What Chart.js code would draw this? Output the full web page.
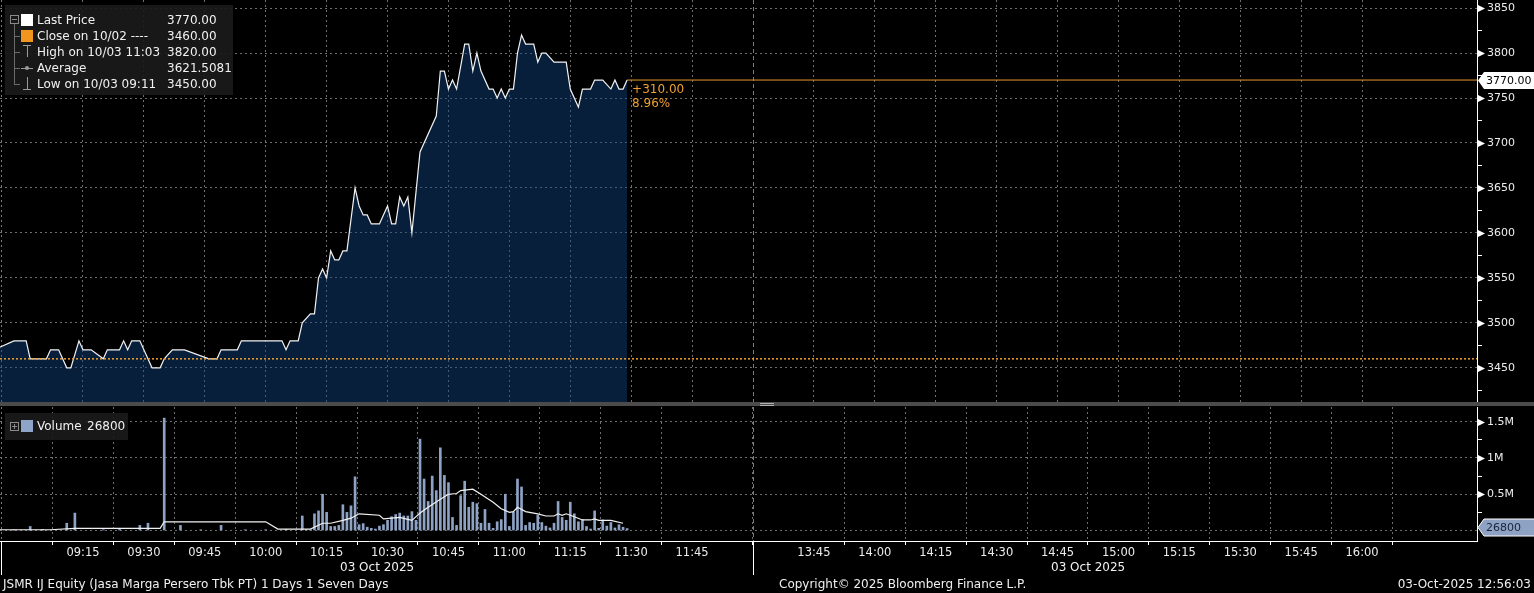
<!DOCTYPE html>
<html>
<head>
<meta charset="utf-8">
<script src="https://cdn.jsdelivr.net/npm/chart.js@4.4.1/dist/chart.umd.min.js"></script>
<style>
html,body{margin:0;padding:0;background:#000;overflow:hidden}
body{width:1534px;height:593px;position:relative;font-family:'DejaVu Sans',sans-serif;font-size:12px;color:#f0f0f0}
#priceBox{position:absolute;left:0;top:0;width:1534px;height:402px}
#volBox{position:absolute;left:0;top:406px;width:1534px;height:187px}
.sep{position:absolute;left:0;top:402px;width:1534px;height:4px;background:#4b4b4b}
.handle{position:absolute;left:760px;top:403px;width:14px;height:0;border-top:1px solid #b0b0b0;border-bottom:1px solid #b0b0b0;padding-top:1px}
.lg{position:absolute;background:rgba(26,26,26,.92)}
.t{position:absolute;white-space:nowrap;line-height:16px;height:16px}
.ic{position:absolute}
.foot{position:absolute;white-space:nowrap;line-height:16px;color:#f0f0f0}
</style>
</head>
<body>
<div id="priceBox"><canvas id="price"></canvas></div>
<div class="sep"></div><div class="handle"></div>
<div id="volBox"><canvas id="vol"></canvas></div>

<!-- price legend -->
<div class="lg" style="left:5px;top:5px;width:228px;height:90px"></div>
<div class="ic" style="left:10px;top:15px;width:7px;height:7px;border:1px solid #8a8a8a"></div>
<div class="ic" style="left:12px;top:19px;width:5px;height:1px;background:#8a8a8a"></div>
<div class="ic" style="left:14px;top:24px;width:1px;height:61px;background:#6a6a6a"></div>
<div class="ic" style="left:14px;top:36px;width:6px;height:1px;background:#6a6a6a"></div>
<div class="ic" style="left:14px;top:52px;width:6px;height:1px;background:#6a6a6a"></div>
<div class="ic" style="left:14px;top:68px;width:6px;height:1px;background:#6a6a6a"></div>
<div class="ic" style="left:14px;top:84px;width:6px;height:1px;background:#6a6a6a"></div>
<div class="ic" style="left:21px;top:14px;width:12px;height:12px;background:#fff"></div>
<div class="ic" style="left:21px;top:30px;width:12px;height:12px;background:#f0961e"></div>
<div class="ic" style="left:23px;top:45px;width:8px;height:1px;background:#9a9a9a"></div>
<div class="ic" style="left:27px;top:45px;width:1px;height:12px;background:#9a9a9a"></div>
<div class="ic" style="left:21px;top:68px;width:12px;height:1px;background:#9a9a9a"></div>
<div class="ic" style="left:25px;top:66px;width:4px;height:4px;border-radius:50%;background:#9a9a9a"></div>
<div class="ic" style="left:27px;top:77px;width:1px;height:12px;background:#9a9a9a"></div>
<div class="ic" style="left:23px;top:89px;width:8px;height:1px;background:#9a9a9a"></div>
<div class="t" style="left:37px;top:12px">Last Price</div><div class="t" style="left:167px;top:12px">3770.00</div>
<div class="t" style="left:37px;top:28px">Close on 10/02 ----</div><div class="t" style="left:167px;top:28px">3460.00</div>
<div class="t" style="left:37px;top:44px">High on 10/03 11:03</div><div class="t" style="left:167px;top:44px">3820.00</div>
<div class="t" style="left:37px;top:60px">Average</div><div class="t" style="left:167px;top:60px">3621.5081</div>
<div class="t" style="left:37px;top:76px">Low on 10/03 09:11</div><div class="t" style="left:167px;top:76px">3450.00</div>

<!-- volume legend -->
<div class="lg" style="left:5px;top:413px;width:123px;height:27px"></div>
<div class="ic" style="left:10px;top:422px;width:7px;height:7px;border:1px solid #8a8a8a"></div>
<div class="ic" style="left:12px;top:426px;width:5px;height:1px;background:#8a8a8a"></div>
<div class="ic" style="left:14px;top:424px;width:1px;height:5px;background:#8a8a8a"></div>
<div class="ic" style="left:21px;top:420px;width:12px;height:12px;background:#8ea4c8"></div>
<div class="t" style="left:37px;top:418px">Volume</div><div class="t" style="left:87px;top:418px">26800</div>

<!-- footer -->
<div class="foot" style="left:340px;top:559px">03 Oct 2025</div>
<div class="foot" style="left:1051px;top:559px">03 Oct 2025</div>
<div class="foot" style="left:3px;top:576px">JSMR IJ Equity (Jasa Marga Persero Tbk PT) 1 Days 1 Seven Days</div>
<div class="foot" style="left:779px;top:576px">Copyright© 2025 Bloomberg Finance L.P.</div>
<div class="foot" style="right:3px;top:576px">03-Oct-2025 12:56:03</div>

<script>
// ---- data ----
const PRICE_TIMES = ['08:54','08:58','09:01','09:02','09:06','09:07','09:09','09:11','09:12','09:14','09:15','09:17','09:20','09:21','09:24','09:25','09:26','09:27','09:29','09:32','09:34','09:35','09:37','09:40','09:46','09:48','09:49','09:53','09:54','10:04','10:05','10:06','10:08','10:09','10:11','10:12','10:13','10:14','10:15','10:16','10:17','10:18','10:19','10:20','10:22','10:23','10:24','10:25','10:26','10:28','10:30','10:31','10:32','10:33','10:34','10:35','10:36','10:38','10:42','10:43','10:44','10:45','10:46','10:47','10:49','10:50','10:51','10:52','10:53','10:55','10:56','10:57','10:58','10:59','11:00','11:01','11:02','11:03','11:04','11:06','11:07','11:08','11:09','11:11','11:14','11:15','11:17','11:18','11:20','11:21','11:23','11:25','11:26','11:27','11:28','11:29'];
const PRICE_VALUES = [3472,3480,3480,3460,3460,3470,3470,3450,3450,3480,3470,3470,3460,3470,3470,3480,3470,3480,3480,3450,3450,3460,3470,3470,3460,3460,3470,3470,3480,3480,3470,3480,3480,3500,3510,3510,3550,3560,3550,3580,3570,3570,3580,3580,3650,3630,3620,3620,3610,3610,3630,3610,3610,3640,3630,3640,3600,3690,3730,3780,3780,3760,3770,3760,3810,3810,3780,3800,3780,3760,3760,3750,3760,3750,3760,3760,3800,3820,3810,3810,3790,3800,3800,3790,3790,3760,3740,3760,3760,3770,3770,3760,3770,3760,3760,3770];
const PREV_CLOSE = 3460;

const VOL_TIMES = ['08:58','09:02','09:05','09:11','09:13','09:20','09:24','09:29','09:31','09:35','09:39','09:44','09:49','09:55','10:00','10:05',
  '10:09','10:10','10:11','10:12','10:13','10:14','10:15','10:16','10:17','10:18','10:19','10:20','10:21','10:22','10:23','10:24','10:25','10:26','10:27','10:28','10:29',
  '10:30','10:31','10:32','10:33','10:34','10:35','10:36','10:37','10:38','10:39','10:40','10:41','10:42','10:43','10:44','10:45','10:46','10:47','10:48','10:49',
  '10:50','10:51','10:52','10:53','10:54','10:55','10:56','10:57','10:58','10:59','11:00','11:01','11:02','11:03','11:04','11:05','11:06','11:07','11:08','11:09',
  '11:10','11:11','11:12','11:13','11:14','11:15','11:16','11:17','11:18','11:19','11:20','11:21','11:22','11:23','11:24','11:25','11:26','11:27','11:28','11:29'];
const VOL_VALUES = [10000,55000,15000,100000,240000,10000,15000,70000,100000,1550000,70000,10000,70000,10000,10000,15000,
  200000,10000,10000,230000,270000,500000,250000,55000,55000,70000,355000,250000,340000,740000,80000,95000,45000,30000,20000,60000,80000,
  140000,190000,220000,240000,200000,200000,260000,140000,1260000,710000,400000,750000,550000,1140000,760000,660000,180000,70000,480000,680000,
  320000,390000,370000,100000,290000,100000,30000,120000,150000,500000,55000,250000,710000,600000,70000,110000,100000,210000,110000,60000,
  35000,100000,400000,180000,140000,390000,230000,120000,150000,55000,20000,270000,30000,145000,60000,110000,35000,80000,45000,26800];

const VOL_AVG_TIMES = ['08:54','09:07','09:13','09:34','09:35','10:00','10:03','10:11','10:14','10:16','10:19','10:21','10:23','10:28','10:29','10:31','10:33','10:36','10:38','10:40','10:43','10:45','10:47','10:48','10:51','10:53','10:56','10:58','11:00','11:01','11:02','11:04','11:07','11:09','11:11','11:12','11:13','11:14','11:16','11:18','11:20','11:21','11:22','11:25','11:28'];
const VOL_AVG_VALUES = [10000,10000,30000,30000,120000,120000,20000,20000,100000,100000,140000,170000,230000,210000,160000,170000,180000,140000,240000,320000,430000,500000,510000,550000,570000,500000,390000,300000,250000,260000,320000,260000,230000,200000,200000,230000,210000,230000,190000,145000,145000,160000,140000,140000,100000];

const TIME_TICKS = ['09:15','09:30','09:45','10:00','10:15','10:30','10:45','11:00','11:15','11:30','11:45','13:45','14:00','14:15','14:30','14:45','15:00','15:15','15:30','15:45','16:00'];
const PRICE_TICKS = [3425,3450,3475,3500,3525,3550,3575,3600,3625,3650,3675,3700,3725,3750,3775,3800,3825,3850];
const VOL_TICKS = [0,250000,500000,750000,1000000,1250000,1500000];

// ---- axis helpers (lunch break 12:00-13:30 is collapsed) ----
const X_MIN = 534.56, X_MAX = 898.3, BREAK_X = 720;
const toX = t => { const [h, m] = t.split(':').map(Number); const v = h * 60 + m; return v >= 810 ? v - 90 : v; };
const fmtT = v => { const m = v > BREAK_X ? v + 90 : v; return String(Math.floor(m / 60)).padStart(2, '0') + ':' + String(Math.round(m % 60)).padStart(2, '0'); };
const fmtVol = v => v === 0 ? '' : (v % 500000 ? '' : (v / 1e6) + 'M');

const GRID = '#6e6e6e', TXT = '#ececec', FONT = "'DejaVu Sans', sans-serif";
Chart.defaults.font.family = FONT;
Chart.defaults.color = TXT;

const pts = (ts, vs) => ts.map((t, i) => ({x: toX(t), y: vs[i]}));

function axisMarks(ctx, scale, isMajor){
  ctx.save(); ctx.fillStyle = '#fff';
  scale.ticks.forEach(t => {
    if (!isMajor(t.value)) return;
    const y = Math.round(scale.getPixelForValue(t.value)) + 0.5;
    ctx.beginPath(); ctx.moveTo(scale.left + 1, y - 3.5); ctx.lineTo(scale.left + 8, y); ctx.lineTo(scale.left + 1, y + 3.5); ctx.closePath(); ctx.fill();
  });
  ctx.restore();
}
function tag(ctx, x0, y, text, fill, color, stroke){
  ctx.save();
  ctx.beginPath(); ctx.moveTo(x0 + 1, y); ctx.lineTo(x0 + 7, y - 8.5); ctx.lineTo(x0 + 60, y - 8.5); ctx.lineTo(x0 + 60, y + 8.5); ctx.lineTo(x0 + 7, y + 8.5); ctx.closePath();
  ctx.fillStyle = fill; ctx.fill();
  if (stroke){ ctx.strokeStyle = stroke; ctx.lineWidth = 1; ctx.stroke(); }
  ctx.fillStyle = color; ctx.font = '11px ' + FONT; ctx.textBaseline = 'middle'; ctx.fillText(text, x0 + 9, y + 1);
  ctx.restore();
}
function breakLines(chart){
  const {ctx, chartArea: a, scales: {x}} = chart;
  ctx.save(); ctx.strokeStyle = '#7c7c7c'; ctx.lineWidth = 1;
  [X_MIN, BREAK_X].forEach((v, i) => {
    const px = Math.max(Math.round(x.getPixelForValue(v)), 1) + 0.5;
    ctx.setLineDash(i ? [4, 3] : [2, 3]);
    ctx.beginPath(); ctx.moveTo(px, a.top); ctx.lineTo(px, a.bottom); ctx.stroke();
  });
  ctx.restore();
}

const xScale = (showLabels) => ({
  type: 'linear', min: X_MIN, max: X_MAX, offset: false,
  afterBuildTicks: s => { s.ticks = TIME_TICKS.map(t => ({value: toX(t)})); },
  afterFit: s => { s.paddingLeft = 0; s.paddingRight = 0; if (!showLabels) s.height = 0; else s.height = 52; },
  grid: {color: GRID, drawTicks: showLabels, tickLength: 4, tickColor: '#fff'},
  border: {display: showLabels, color: '#fff', width: 1, dash: [2, 3]},
  ticks: {display: showLabels, callback: v => fmtT(v), maxRotation: 0, autoSkip: false, padding: 1, color: TXT, font: {size: 11.5}}
});

const yScale = (ticks, min, max, isMajor, label) => ({
  position: 'right', min, max,
  afterBuildTicks: s => { s.ticks = ticks.map(v => ({value: v})); },
  afterFit: s => { s.width = 57; s.paddingTop = 0; s.paddingBottom = 0; },
  grid: {color: c => isMajor(c.tick.value) ? GRID : 'rgba(0,0,0,0)', tickLength: 5,
         tickColor: c => isMajor(c.tick.value) ? 'rgba(0,0,0,0)' : '#fff'},
  border: {display: true, color: '#fff', width: 1, dash: [2, 3]},
  ticks: {callback: label, padding: 5, color: TXT, font: {size: 11}, autoSkip: false}
});

const common = {
  responsive: true, maintainAspectRatio: false, animation: false,
  plugins: {legend: {display: false}, tooltip: {enabled: false}},
  elements: {point: {radius: 0}, line: {tension: 0}}
};

const lastT = toX(PRICE_TIMES[PRICE_TIMES.length - 1]);
const lastP = PRICE_VALUES[PRICE_VALUES.length - 1];

new Chart(document.getElementById('price'), {
  type: 'line',
  data: {datasets: [
    {data: [{x: X_MIN, y: PREV_CLOSE}, {x: X_MAX, y: PREV_CLOSE}], borderColor: '#f0a030', borderWidth: 1.5, borderDash: [2, 2], fill: false, order: 0},
    {data: [{x: lastT, y: lastP}, {x: X_MAX, y: lastP}], borderColor: '#e8982e', borderWidth: 1, fill: false, order: 0},
    {data: pts(PRICE_TIMES, PRICE_VALUES), borderColor: '#f2f2f2', borderWidth: 1.2, fill: 'start', backgroundColor: 'rgba(18,69,133,0.45)', order: 1}
  ]},
  options: {...common, layout: {padding: 0},
    scales: {x: xScale(false), y: yScale(PRICE_TICKS, 3412, 3859, v => v % 50 === 0, v => v % 50 === 0 ? String(v) : '')}},
  plugins: [{id: 'priceDecor',
    beforeDatasetsDraw: breakLines,
    afterDraw(chart){
      const {ctx, scales: {x, y}} = chart;
      axisMarks(ctx, y, v => v % 50 === 0);
      const px = x.getPixelForValue(lastT), py = y.getPixelForValue(lastP), chg = lastP - PREV_CLOSE;
      ctx.save(); ctx.fillStyle = '#f0a030'; ctx.font = '12px ' + FONT; ctx.textBaseline = 'middle';
      ctx.fillText('+' + chg.toFixed(2), px + 5, py + 10);
      ctx.fillText((chg / PREV_CLOSE * 100).toFixed(2) + '%', px + 5, py + 24);
      ctx.restore();
      tag(ctx, y.left, Math.round(py) + 0.5, lastP.toFixed(2), '#fff', '#000', null);
    }}]
});

new Chart(document.getElementById('vol'), {
  type: 'bar',
  data: {datasets: [
    {type: 'line', data: pts(VOL_AVG_TIMES, VOL_AVG_VALUES), borderColor: '#f2f2f2', borderWidth: 1.2, fill: false, order: 0},
    {type: 'bar', data: pts(VOL_TIMES, VOL_VALUES), backgroundColor: '#8ea2c4', barThickness: 2, order: 1}
  ]},
  options: {...common, layout: {padding: {top: 1}},
    scales: {x: xScale(true), y: yScale(VOL_TICKS, -145000, 1703000, v => v % 500000 === 0, fmtVol)}},
  plugins: [{id: 'volDecor',
    beforeDatasetsDraw: breakLines,
    afterDraw(chart){
      const {ctx, chartArea: a, scales: {x, y}} = chart;
      axisMarks(ctx, y, v => v % 500000 === 0 && v > 0);
      ctx.save(); ctx.strokeStyle = '#fff'; ctx.lineWidth = 1;
      [X_MIN, BREAK_X].forEach(v => {
        const px = Math.max(Math.round(x.getPixelForValue(v)), 1) + 0.5;
        ctx.beginPath(); ctx.moveTo(px, a.bottom); ctx.lineTo(px, a.bottom + 34); ctx.stroke();
      });
      ctx.restore();
      const lastV = VOL_VALUES[VOL_VALUES.length - 1];
      tag(ctx, y.left, Math.round(y.getPixelForValue(lastV)) - 1.5, String(lastV), '#8ea2c4', '#16243a', '#fff');
    }}]
});
</script>
</body>
</html>
